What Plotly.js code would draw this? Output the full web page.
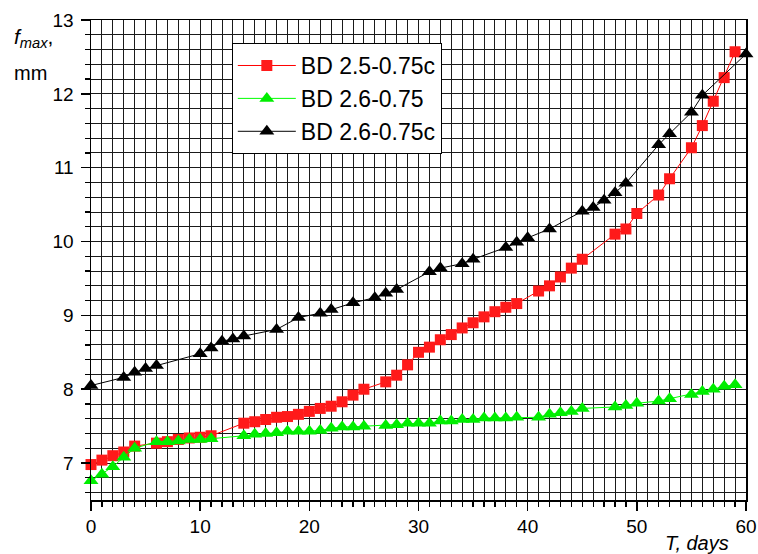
<!DOCTYPE html>
<html><head><meta charset="utf-8">
<script src="https://cdn.plot.ly/plotly-3.0.1.min.js"></script>
<style>html,body{margin:0;padding:0;background:#fff}#chart{width:758px;height:554px}</style>
</head><body><div id="chart"></div>
<script>
const redName = "BD 2.5-0.75c";
const redT = [0,1,2,3,4,6,7,8,9,10,11,14,15,16,17,18,19,20,21,22,23,24,25,27,28,29,30,31,32,33,34,35,36,37,38,39,41,42,43,44,45,48,49,50,52,53,55,56,57,58,59];
const redV = [6.98,7.04,7.10,7.15,7.23,7.27,7.29,7.32,7.34,7.35,7.37,7.54,7.56,7.59,7.62,7.63,7.66,7.70,7.74,7.77,7.83,7.92,8.00,8.10,8.19,8.33,8.50,8.57,8.67,8.74,8.83,8.90,8.98,9.05,9.11,9.16,9.33,9.40,9.52,9.64,9.76,10.10,10.17,10.38,10.63,10.85,11.27,11.57,11.90,12.22,12.57];

const greenName = "BD 2.6-0.75";
const greenT = [0,1,2,3,4,6,7,8,9,10,11,14,15,16,17,18,19,20,21,22,23,24,25,27,28,29,30,31,32,33,34,35,36,37,38,39,41,42,43,44,45,48,49,50,52,53,55,56,57,58,59];
const greenV = [6.76,6.85,6.95,7.08,7.20,7.29,7.29,7.30,7.32,7.32,7.33,7.37,7.39,7.40,7.41,7.43,7.43,7.43,7.44,7.47,7.49,7.49,7.50,7.51,7.52,7.54,7.54,7.54,7.57,7.57,7.59,7.59,7.61,7.61,7.61,7.62,7.62,7.66,7.68,7.70,7.74,7.76,7.78,7.81,7.84,7.87,7.93,7.97,8.00,8.04,8.06];

const blackName = "BD 2.6-0.75c";
const blackT = [0,3,4,5,6,10,11,12,13,14,17,19,21,22,24,26,27,28,31,32,34,35,38,39,40,42,45,46,47,48,49,52,53,55,56,60];
const blackV = [8.05,8.16,8.23,8.28,8.32,8.48,8.56,8.65,8.68,8.72,8.81,8.97,9.03,9.08,9.17,9.24,9.30,9.35,9.59,9.64,9.70,9.76,9.92,9.99,10.05,10.17,10.41,10.46,10.56,10.66,10.79,11.31,11.46,11.75,11.98,12.54];

const FONT = '"Liberation Sans", Arial, sans-serif';

const traces = [
  {x: redT, y: redV, name: redName, type: 'scatter', mode: 'lines+markers', cliponaxis: false,
   line: {color: '#ff0000', width: 1}, marker: {symbol: 'square', size: 11, color: '#ff1a1a'}},
  {x: greenT, y: greenV, name: greenName, type: 'scatter', mode: 'lines+markers', cliponaxis: false,
   line: {color: '#00ff00', width: 1}, marker: {symbol: 'triangle-up', size: 13, color: '#00ee00'}},
  {x: blackT, y: blackV, name: blackName, type: 'scatter', mode: 'lines+markers', cliponaxis: false,
   line: {color: '#000000', width: 1}, marker: {symbol: 'triangle-up', size: 13, color: '#000000'}}
];

const gridCol = '#1a1a1a';
const layout = {
  width: 758, height: 554,
  margin: {l: 91, r: 12, t: 20, b: 54},
  paper_bgcolor: '#fff', plot_bgcolor: '#fff',
  font: {family: FONT, size: 18, color: '#000'},
  showlegend: true,
  legend: {x: 0.215, y: 0.952, xanchor: 'left', yanchor: 'top', bgcolor: '#fff',
           bordercolor: '#000', borderwidth: 1, font: {family: FONT, size: 23, color: '#000'},
           itemwidth: 58, tracegroupgap: 0},
  xaxis: {range: [0, 60], tickmode: 'linear', tick0: 0, dtick: 10,
          showline: true, linecolor: '#000', linewidth: 1.5, mirror: true,
          ticks: 'outside', ticklen: 9, tickwidth: 1.5, tickcolor: '#000',
          showgrid: true, gridcolor: gridCol, gridwidth: 1, zeroline: false,
          minor: {dtick: 1, tick0: 0, showgrid: true, gridcolor: gridCol, gridwidth: 1,
                  ticks: 'outside', ticklen: 5, tickwidth: 1.2, tickcolor: '#000'},
          tickfont: {family: FONT, size: 19}},
  yaxis: {range: [6.5, 13], tickmode: 'linear', tick0: 0, dtick: 1,
          showline: true, linecolor: '#000', linewidth: 1.5, mirror: true,
          ticks: 'outside', ticklen: 9, tickwidth: 1.5, tickcolor: '#000',
          showgrid: true, gridcolor: gridCol, gridwidth: 1, zeroline: false, ticklabelstandoff: 3,
          minor: {dtick: 0.2, tick0: 0, showgrid: true, gridcolor: gridCol, gridwidth: 1,
                  ticks: 'outside', ticklen: 5, tickwidth: 1.2, tickcolor: '#000'},
          tickfont: {family: FONT, size: 19}},
  annotations: [
    {xref: 'paper', yref: 'paper', x: -0.121, y: 0.962, xanchor: 'left', yanchor: 'middle', showarrow: false,
     text: '<i>f</i><sub><i>max</i></sub>,', font: {family: FONT, size: 21, color: '#000'}},
    {xref: 'paper', yref: 'paper', x: -0.12, y: 0.889, xanchor: 'left', yanchor: 'middle', showarrow: false,
     text: 'mm', font: {family: FONT, size: 20, color: '#000'}},
    {xref: 'paper', yref: 'paper', x: 0.977, y: -0.09, xanchor: 'right', yanchor: 'middle', showarrow: false,
     text: '<i>T, days</i>', font: {family: FONT, size: 20, color: '#000'}}
  ]
};
Plotly.newPlot('chart', traces, layout, {displayModeBar: false, staticPlot: true});
</script></body></html>
